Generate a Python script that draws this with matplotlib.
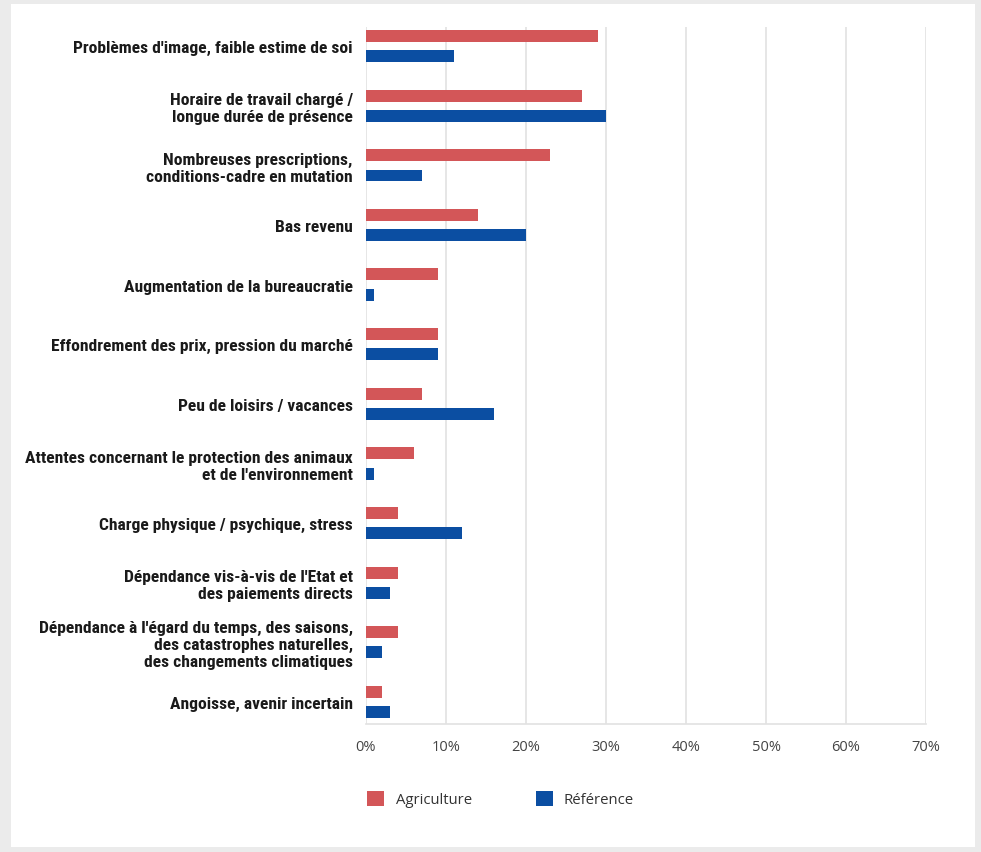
import numpy as np
import matplotlib.pyplot as plt
from matplotlib.patches import Rectangle
from matplotlib.ticker import FuncFormatter
from matplotlib import font_manager

categories = [
    "Problèmes d'image, faible estime de soi",
    "Horaire de travail chargé /\nlongue durée de présence",
    "Nombreuses prescriptions,\nconditions-cadre en mutation",
    "Bas revenu",
    "Augmentation de la bureaucratie",
    "Effondrement des prix, pression du marché",
    "Peu de loisirs / vacances",
    "Attentes concernant le protection des animaux\net de l'environnement",
    "Charge physique / psychique, stress",
    "Dépendance vis-à-vis de l'Etat et\ndes paiements directs",
    "Dépendance à l'égard du temps, des saisons,\ndes catastrophes naturelles,\ndes changements climatiques",
    "Angoisse, avenir incertain",
]
agriculture = [29, 27, 23, 14, 9, 9, 7, 6, 4, 4, 4, 2]
reference = [11, 30, 7, 20, 1, 9, 16, 1, 12, 3, 2, 3]
xticks = [0, 10, 20, 30, 40, 50, 60, 70]

red = '#d35658'
blue = '#0b4ea2'

installed = {f.name for f in font_manager.fontManager.ttflist}
label_font = [f for f in ['Roboto Condensed', 'Liberation Sans Narrow', 'Roboto']
              if f in installed][:1] + ['DejaVu Sans']

fig = plt.figure(figsize=(9.81, 8.53), dpi=100, facecolor='#ebebeb')
# white card behind the chart
fig.patches.append(Rectangle((11 / 981, 5 / 853), 964 / 981, 843 / 853,
                             transform=fig.transFigure, facecolor='white',
                             edgecolor='none', zorder=-5))

ax = fig.add_axes([366 / 981, 1 - 725 / 853, 560 / 981, 697 / 853])
ax.set_zorder(2)
ax.set_facecolor('none')

y = np.arange(len(categories))
h = 0.2
ax.barh(y - 0.17, agriculture, height=h, color=red, label='Agriculture', zorder=3)
ax.barh(y + 0.17, reference, height=h, color=blue, label='Référence', zorder=3)

ax.set_ylim(11.37, -0.32)
ax.set_xlim(0, 70)
ax.set_yticks(y)
ax.set_yticklabels(categories, fontfamily=label_font, fontweight='bold',
                   fontsize=12.6, color='#1a1a1a', linespacing=1.17)
ax.set_xticks(xticks)
ax.xaxis.set_major_formatter(FuncFormatter(lambda v, p: f'{v:.0f}%'))
ax.tick_params(axis='x', length=0, pad=11, labelsize=10.5, labelcolor='#444444')
for t in ax.get_xticklabels():
    t.set_fontfamily(['Open Sans', 'DejaVu Sans'])
ax.tick_params(axis='y', length=0, pad=9.5)

ax.grid(axis='x', color='#e2e2e2', linewidth=1.2, zorder=0)
for s in ['top', 'right', 'left']:
    ax.spines[s].set_visible(False)
ax.spines['bottom'].set_color('#e2e2e2')
ax.spines['bottom'].set_linewidth(1.2)

fig.legend(loc='center left', bbox_to_anchor=(354 / 981, 1 - 800 / 853), ncol=2,
           frameon=False, handlelength=1.15, handleheight=1.15, handletextpad=0.75,
           columnspacing=4.3, prop={'family': ['Open Sans', 'DejaVu Sans'], 'size': 10.7},
           labelcolor='#333333')

fig.savefig('out.png', dpi=100, facecolor=fig.get_facecolor())
